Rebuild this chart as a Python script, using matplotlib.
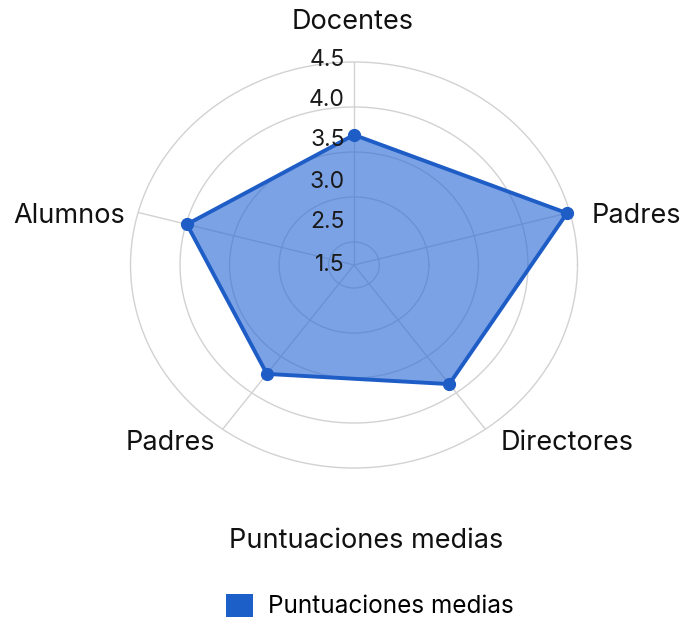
import numpy as np
import matplotlib
matplotlib.use("Agg")
import matplotlib.pyplot as plt
from matplotlib.patches import Patch
from matplotlib import transforms

plt.rcParams['font.family'] = ['Inter', 'DejaVu Sans']

categories = ["Docentes", "Padres", "Directores", "Padres", "Alumnos"]
scores = [3.69, 4.47, 3.88, 3.74, 3.99]
# spoke directions as drawn in the picture (degrees)
angles_deg = [90, 15, 306, 234, 165]

grid_vals = [2.5, 3.0, 3.5, 4.0, 4.5]
tick_labels = ["1.5", "2.5", "3.0", "3.5", "4.0", "4.5"]
tick_pos = [2.244, 2.72, 3.166, 3.63, 4.08, 4.52]

line_col = "#1e5cc6"
fill_col = "#2a6ad6"
grid_col = "#d2d2d2"

W, H = 683, 618
fig = plt.figure(figsize=(W / 100, H / 100), dpi=100)
ax = fig.add_axes([130.5 / W, 150 / H, 447 / W, 406 / H], projection="polar")
ax.set_aspect("auto")

theta = np.deg2rad(angles_deg)
th = np.append(theta, theta[0])
vals = np.append(scores, scores[0])

ax.fill(th, vals, color=fill_col, alpha=0.62, zorder=2, lw=0)
ax.plot(th, vals, color=line_col, lw=2.8, zorder=3, solid_joinstyle="round",
        clip_on=False)
ax.plot(theta, scores, "o", color=line_col, ms=8.5, zorder=4, clip_on=False)

ax.set_rgrids(grid_vals, labels=[""] * len(grid_vals))
ax.set_thetagrids(angles_deg, labels=[""] * len(angles_deg))
ax.set_xlim(0, 2 * np.pi)
ax.set_ylim(2.244, 4.5)
ax.grid(True, color=grid_col, lw=1.0)
for gl in ax.yaxis.get_gridlines():
    gl.set_clip_on(False)
ax.spines["polar"].set_visible(False)
ax.set_facecolor("none")

off = transforms.offset_copy(ax.transData, fig=fig, x=-9, y=0, units="dots")
for r, lab in zip(tick_pos, tick_labels):
    ax.text(np.pi / 2, r, lab, transform=off, ha="right", va="center",
            fontsize=16.5, color="#1a1a1a", zorder=5, clip_on=False)

# category labels (pixel positions from the picture)
cat_pos = [(353, 22, "center"), (592, 216, "left"), (567, 443, "center"),
           (170, 443, "center"), (125, 216, "right")]
for (x, y, ha), name in zip(cat_pos, categories):
    fig.text(x / W, 1 - y / H, name, ha=ha, va="center", fontsize=19.5,
             color="#111111")

fig.text(366 / W, 1 - 541 / H, "Puntuaciones medias", ha="center",
         va="center", fontsize=19.5, color="#111111")

fig.legend(handles=[Patch(facecolor="#1c5fc9", edgecolor="none",
                          label="Puntuaciones medias")],
           loc="center", bbox_to_anchor=(370 / W, 1 - 606 / H),
           frameon=False, fontsize=17.5, handlelength=1.1, handleheight=1.1,
           handletextpad=0.6)

fig.savefig("out.png", dpi=100, facecolor="white")
